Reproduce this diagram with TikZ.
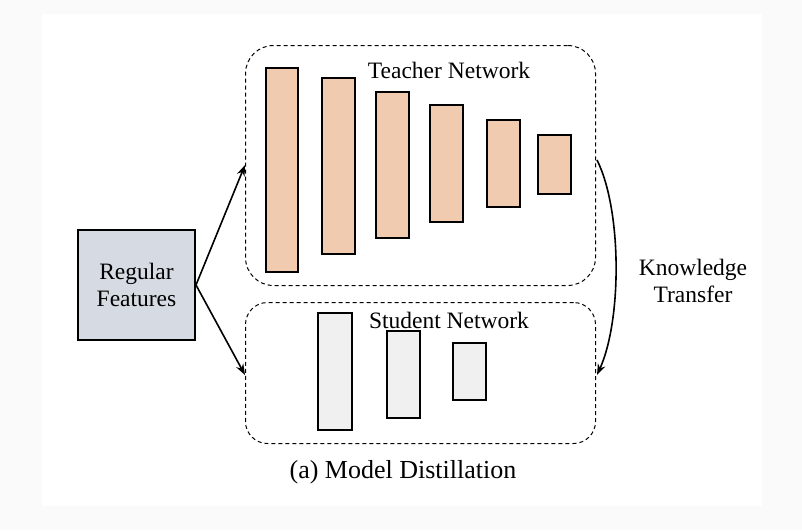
\documentclass[tikz,border=0pt]{standalone}
\usepackage{fontspec}
\setmainfont{Liberation Serif}
\usetikzlibrary{arrows.meta}
\begin{document}
\begin{tikzpicture}[x=1pt,y=-1pt,
 grp/.style={draw, line width=1pt, dash pattern=on 4pt off 3pt, rounded corners=28pt},
 tbar/.style={draw, line width=1.6pt, fill=tfill},
 sbar/.style={draw, line width=1.6pt, fill=sfill},
 lbl/.style={font=\fontsize{23.5}{27}\selectfont, align=center},
 arr/.style={-{Stealth[length=11pt,width=8pt]}, line width=1.6pt}]
\definecolor{tfill}{HTML}{F0CBB0}
\definecolor{sfill}{HTML}{F0F0F0}
\definecolor{ffill}{HTML}{D6DBE3}
\definecolor{bgout}{HTML}{FAFAFA}
\fill[bgout] (0,0) rectangle (802,530);
\fill[white] (42,14) rectangle (762,506);
\useasboundingbox (0,0) rectangle (802,530);
\node[grp, minimum width=350pt, minimum height=240pt, anchor=north west] (teach) at (245,45) {};
\node[grp, minimum width=350pt, minimum height=141pt, anchor=north west, rounded corners=22pt] (stud) at (245,302) {};
\node[draw, line width=1.6pt, fill=ffill, minimum width=117pt, minimum height=110pt, lbl] (feat) at (136.5,285) {Regular\\Features};
\foreach \n/\a/\b/\c/\d in {t1/266/68/298/272, t2/322/78/355/254, t3/376/92/409/238, t4/430/105/463/222, t5/487/120/520/207, t6/538/135/571/194}
  \draw[tbar] (\a,\b) rectangle (\c,\d);
\foreach \n/\a/\b/\c/\d in {s1/318/313/352/430, s2/387/331/420/418, s3/453/343/486/400}
  \draw[sbar] (\a,\b) rectangle (\c,\d);
\node[lbl] (tl) at (449,70) {Teacher Network};
\node[lbl] (sl) at (449,320) {Student Network};
\coordinate (fo) at (196,285);
\coordinate (ti) at (245,165);
\coordinate (si) at (245,375);
\draw[arr] (fo) -- (ti);
\draw[arr] (fo) -- (si);
\coordinate (k1) at (597,160);
\coordinate (k2) at (597,375);
\draw[arr] (k1) .. controls (622,210) and (622,320) .. (k2);
\node[lbl] (kt) at (693,281) {Knowledge\\Transfer};
\node[lbl, font=\fontsize{26}{30}\selectfont] (cap) at (403,472) {(a) Model Distillation};
\end{tikzpicture}
\end{document}
